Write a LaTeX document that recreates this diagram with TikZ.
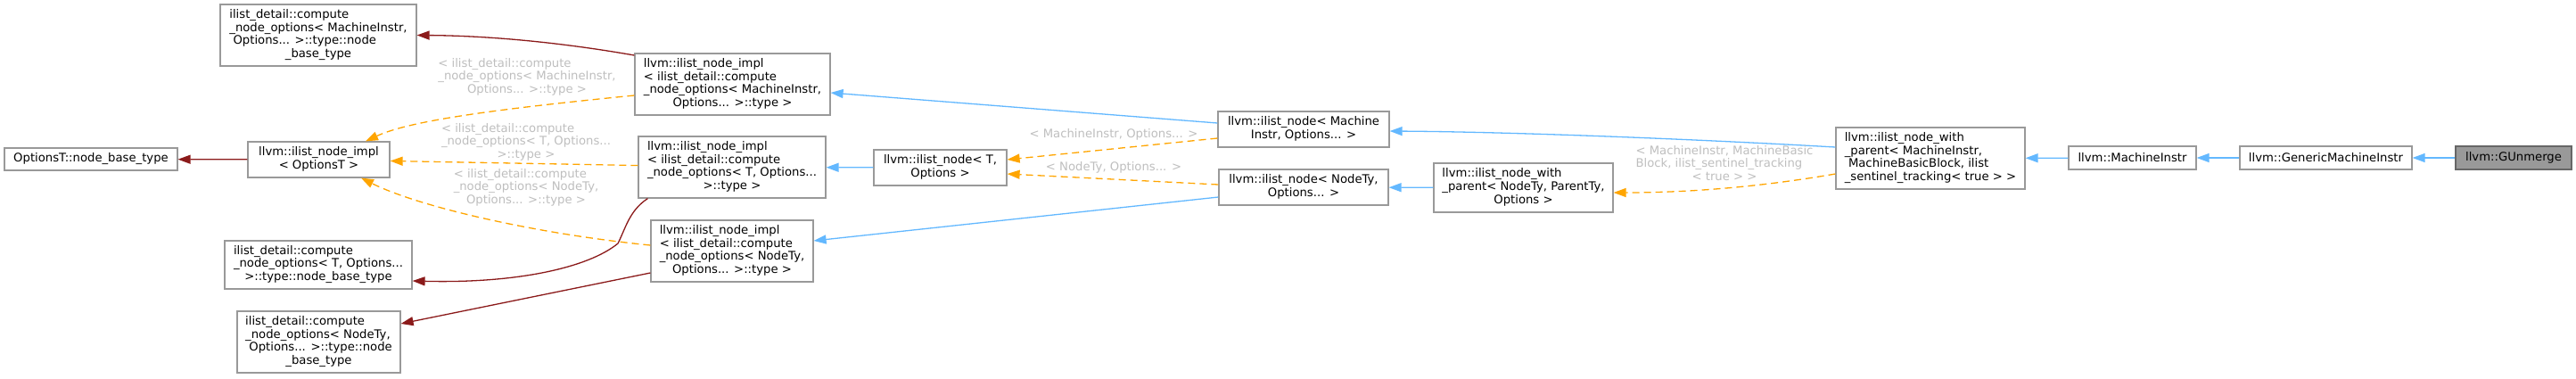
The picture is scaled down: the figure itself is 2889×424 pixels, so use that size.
\documentclass[tikz,border=0pt]{standalone}
\usepackage{fontspec}
\newfontfamily\doxfont{DejaVu Sans}
\usetikzlibrary{arrows.meta}
\definecolor{boxgray}{HTML}{999999}
\definecolor{curgray}{HTML}{666666}
\definecolor{pubblue}{HTML}{63B8FF}
\definecolor{usered}{HTML}{8B1A1A}
\definecolor{tmplorange}{HTML}{FFA500}
\definecolor{lblgray}{HTML}{BEBEBE}
\newcommand{\dlines}[1]{\begin{tabular}{@{}l@{}}#1\end{tabular}}
\newcommand{\lastline}[1]{\multicolumn{1}{@{}c@{}}{#1}}

\begin{document}
\begin{tikzpicture}[x=1pt, y=-1pt,
  cls/.style={draw=boxgray, line width=1.2pt, fill=white, inner sep=0pt,
              font=\doxfont\fontsize{13.2}{14.6}\selectfont},
  cur/.style={cls, fill=boxgray, draw=curgray},
  lbl/.style={inner sep=0pt, text=lblgray, font=\doxfont\fontsize{13.2}{14.6}\selectfont},
  inh/.style={-{Triangle[length=14pt,width=10pt]}, line width=1.3pt, pubblue},
  comp/.style={-{Triangle[length=14pt,width=10pt]}, line width=1.3pt, usered},
  tmpl/.style={-{Triangle[length=14pt,width=10pt]}, line width=1.3pt, tmplorange,
               dash pattern=on 8pt off 5pt}
]
  \useasboundingbox (0,0) rectangle (2889,424);

  % base types
  \node[cls, minimum width=194pt, minimum height=25pt] (obase) at (102,178.5) {OptionsT::node\_base\_type};
  \node[cls, minimum width=220pt, minimum height=69pt] (cmibase) at (357,39.5)
    {\dlines{ilist\_detail::compute\\ \_node\_options< MachineInstr,\\ \ Options... >::type::node\\ \lastline{\_base\_type}}};
  \node[cls, minimum width=159pt, minimum height=40pt] (oimpl) at (357.5,179)
    {\dlines{llvm::ilist\_node\_impl\\ \lastline{< OptionsT >}}};
  \node[cls, minimum width=210pt, minimum height=54pt] (ctbase) at (357,297)
    {\dlines{ilist\_detail::compute\\ \_node\_options< T, Options...\\ \lastline{>::type::node\_base\_type}}};
  \node[cls, minimum width=183pt, minimum height=69pt] (cntbase) at (357.5,383.5)
    {\dlines{ilist\_detail::compute\\ \_node\_options< NodeTy,\\ \ Options... >::type::node\\ \lastline{\_base\_type}}};

  % ilist_node_impl
  \node[cls, minimum width=219pt, minimum height=69pt] (implmi) at (821.5,94.5)
    {\dlines{llvm::ilist\_node\_impl\\ < ilist\_detail::compute\\ \_node\_options< MachineInstr,\\ \lastline{Options... >::type >}}};
  \node[cls, minimum width=210pt, minimum height=69pt] (implt) at (821,187.5)
    {\dlines{llvm::ilist\_node\_impl\\ < ilist\_detail::compute\\ \_node\_options< T, Options...\\ \lastline{>::type >}}};
  \node[cls, minimum width=182pt, minimum height=69pt] (implnt) at (821,281.5)
    {\dlines{llvm::ilist\_node\_impl\\ < ilist\_detail::compute\\ \_node\_options< NodeTy,\\ \lastline{Options... >::type >}}};

  % ilist_node
  \node[cls, minimum width=149pt, minimum height=40pt] (nodet) at (1054.5,188)
    {\dlines{llvm::ilist\_node< T,\\ \lastline{Options >}}};
  \node[cls, minimum width=192pt, minimum height=40pt] (nodemi) at (1462,145)
    {\dlines{llvm::ilist\_node< Machine\\ \lastline{Instr, Options... >}}};
  \node[cls, minimum width=190pt, minimum height=40pt] (nodent) at (1462,210)
    {\dlines{llvm::ilist\_node< NodeTy,\\ \lastline{Options... >}}};

  % ilist_node_with_parent
  \node[cls, minimum width=201pt, minimum height=55pt] (wpnt) at (1708.5,210.5)
    {\dlines{llvm::ilist\_node\_with\\ \_parent< NodeTy, ParentTy,\\ \lastline{Options >}}};
  \node[cls, minimum width=212pt, minimum height=69pt] (wpmi) at (2165,177.5)
    {\dlines{llvm::ilist\_node\_with\\ \_parent< MachineInstr,\\ \ MachineBasicBlock, ilist\\ \lastline{\_sentinel\_tracking< true > >}}};

  % instructions
  \node[cls, minimum width=143pt, minimum height=26pt] (mi) at (2391.5,177) {llvm::MachineInstr};
  \node[cls, minimum width=193pt, minimum height=26pt] (gmi) at (2608.5,177) {llvm::GenericMachineInstr};
  \node[cur, minimum width=130pt, minimum height=26pt] (gum) at (2819,177) {llvm::GUnmerge};

  % usage edges
  \draw[comp] (oimpl) -- (obase);
  \draw[comp] ([yshift=32.5pt]implmi.west) .. controls (620,46) and (540,40) .. (cmibase.east);
  \draw[comp] ([xshift=11pt]implt.south west) .. controls (706,236) and (702,255) .. (693,273)
    .. controls (660,300) and (580,318) .. ([yshift=-18pt]ctbase.east);
  \draw[comp] ([yshift=-24.5pt]implnt.west) -- ([yshift=20.5pt]cntbase.east);

  % template edges
  \draw[tmpl] ([yshift=-12.5pt]implmi.west) .. controls (560,122) and (460,135) .. ([xshift=52.5pt]oimpl.north);
  \draw[tmpl] (implt) -- (oimpl);
  \draw[tmpl] ([yshift=6.5pt]implnt.west) .. controls (600,262) and (470,232) .. ([xshift=47.5pt]oimpl.south);
  \draw[tmpl] ([yshift=-10pt]nodemi.west) -- ([yshift=9pt]nodet.east);
  \draw[tmpl] ([yshift=3pt]nodent.west) -- ([yshift=-7pt]nodet.east);
  \draw[tmpl] ([yshift=-17.5pt]wpmi.west) .. controls (1960,212) and (1880,216) .. ([yshift=-5.5pt]wpnt.east);

  % inheritance edges
  \draw[inh] ([yshift=7pt]nodemi.west) -- ([yshift=-9.5pt]implmi.east);
  \draw[inh] (nodet) -- (implt);
  \draw[inh] ([yshift=-11pt]nodent.west) -- ([yshift=11.5pt]implnt.east);
  \draw[inh] ([yshift=12.5pt]wpmi.west) .. controls (1900,156) and (1700,148) .. ([yshift=-2pt]nodemi.east);
  \draw[inh] (wpnt) -- (nodent);
  \draw[inh] (mi) -- (wpmi);
  \draw[inh] (gmi) -- (mi);
  \draw[inh] (gum) -- (gmi);

  % edge labels
  \node[lbl] (lcmi) at (591,87)
    {\dlines{< ilist\_detail::compute\\ \_node\_options< MachineInstr,\\ \lastline{Options... >::type >}}};
  \node[lbl] (lct) at (590,160)
    {\dlines{< ilist\_detail::compute\\ \_node\_options< T, Options...\\ \lastline{>::type >}}};
  \node[lbl] (lcnt) at (590,211)
    {\dlines{< ilist\_detail::compute\\ \_node\_options< NodeTy,\\ \lastline{Options... >::type >}}};
  \node[lbl] (lnmi) at (1249,151) {< MachineInstr, Options... >};
  \node[lbl] (lnnt) at (1249,188) {< NodeTy, Options... >};
  \node[lbl] (lwp) at (1934,185)
    {\dlines{< MachineInstr, MachineBasic\\ Block, ilist\_sentinel\_tracking\\ \lastline{< true > >}}};
\end{tikzpicture}
\end{document}
